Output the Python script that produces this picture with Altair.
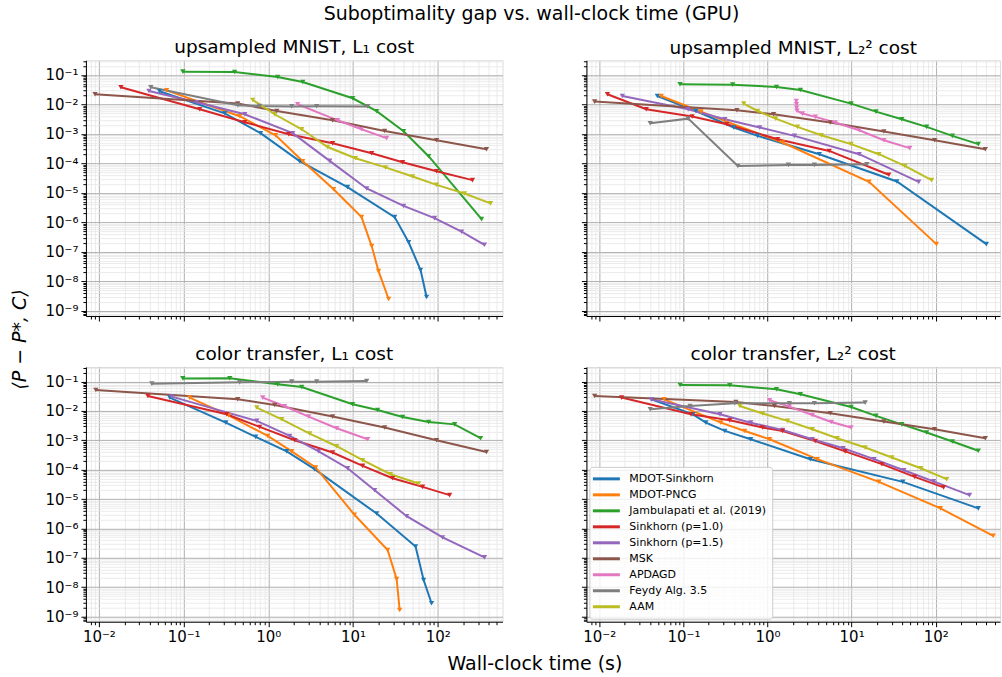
import altair as alt
import pandas as pd

methods = ["MDOT-Sinkhorn", "MDOT-PNCG", "Jambulapati et al. (2019)", "Sinkhorn (p=1.0)",
           "Sinkhorn (p=1.5)", "MSK", "APDAGD", "Feydy Alg. 3.5", "AAM"]
colors = ["#1f77b4", "#ff7f0e", "#2ca02c", "#d62728", "#9467bd", "#8c564b", "#e377c2", "#7f7f7f", "#bcbd22"]

suptitle = "Suboptimality gap vs. wall-clock time (GPU)"
panel_titles = ["upsampled MNIST, L₁ cost", "upsampled MNIST, L₂² cost",
                "color transfer, L₁ cost", "color transfer, L₂² cost"]
x_title = "Wall-clock time (s)"
y_title = "⟨P − P*, C⟩"

# ---------------- upsampled MNIST, L1 cost ----------------
mnist_l1_time = {
    "MDOT-Sinkhorn": [0.052, 0.306, 0.81, 2.34, 8.6, 31.0, 45.3, 62.7, 73.8],
    "MDOT-PNCG": [0.063, 0.46, 1.22, 2.55, 5.9, 12.6, 16.6, 20.0, 26.3],
    "Jambulapati et al. (2019)": [0.098, 0.40, 1.29, 2.55, 9.9, 19.0, 39.5, 78.0, 329],
    "Sinkhorn (p=1.0)": [0.0182, 0.155, 0.527, 1.74, 5.74, 16.6, 38.5, 96.8, 257],
    "Sinkhorn (p=1.5)": [0.039, 0.143, 0.527, 1.94, 5.3, 14.5, 39.5, 91.6, 191, 356],
    "MSK": [0.009, 0.436, 1.26, 5.74, 23.6, 96.8, 376],
    "APDAGD": [2.22, 6.58, 12.6, 24.9],
    "Feydy Alg. 3.5": [0.041, 0.436, 0.79, 1.89, 3.72, 14.9],
    "AAM": [0.655, 1.19, 2.48, 5.01, 10.7, 24.2, 50.5, 96.8, 207, 420],
}
mnist_l1_gap = {
    "MDOT-Sinkhorn": [0.028, 5.0e-3, 1.06e-3, 1.19e-4, 1.56e-5, 1.5e-6, 2.1e-7, 2.4e-8, 2.9e-9],
    "MDOT-PNCG": [0.030, 4.0e-3, 9.0e-4, 1.19e-4, 1.33e-5, 1.5e-6, 1.56e-7, 2.2e-8, 2.5e-9],
    "Jambulapati et al. (2019)": [0.130, 0.126, 0.086, 0.058, 0.0162, 5.9e-3, 1.24e-3, 1.75e-4, 1.28e-6],
    "Sinkhorn (p=1.0)": [0.0383, 6.9e-3, 2.5e-3, 9.8e-4, 4.8e-4, 2.2e-4, 1.1e-4, 5.4e-5, 2.7e-5],
    "Sinkhorn (p=1.5)": [0.0287, 0.0119, 4.65e-3, 1.06e-3, 1.22e-4, 1.41e-5, 3.6e-6, 1.39e-6, 4.8e-7, 1.73e-7],
    "MSK": [0.0222, 0.0107, 6.0e-3, 2.9e-3, 1.26e-3, 6.1e-4, 3.0e-4],
    "APDAGD": [0.0102, 2.9e-3, 1.44e-3, 7.2e-4],
    "Feydy Alg. 3.5": [0.0383, 9.4e-3, 8.8e-3, 8.6e-3, 8.7e-3, 8.6e-3],
    "AAM": [0.0142, 4.65e-3, 1.44e-3, 3.6e-4, 1.5e-4, 7.3e-5, 3.6e-5, 1.87e-5, 9.5e-6, 4.4e-6],
}

# ---------------- upsampled MNIST, L2^2 cost ----------------
mnist_l2_time = {
    "MDOT-Sinkhorn": [0.049, 0.141, 0.397, 0.764, 4.13, 34.5, 400],
    "MDOT-PNCG": [0.0545, 0.162, 0.311, 1.51, 16.1, 102],
    "Jambulapati et al. (2019)": [0.091, 0.386, 1.28, 2.46, 9.86, 19.5, 39.5, 78.0, 158, 321],
    "Sinkhorn (p=1.0)": [0.0125, 0.0362, 0.127, 0.329, 1.32, 5.42, 27.7],
    "Sinkhorn (p=1.5)": [0.0188, 0.114, 0.311, 0.807, 2.09, 12.3, 62.8],
    "MSK": [0.0088, 0.432, 1.18, 5.57, 24.2, 97.0, 389],
    "APDAGD": [2.20, 2.21, 2.22, 2.24, 2.60, 3.70, 6.38, 12.3, 24.2, 49.1],
    "Feydy Alg. 3.5": [0.0403, 0.114, 0.444, 1.77, 3.61, 15.2],
    "AAM": [0.521, 0.764, 1.25, 2.27, 4.36, 9.86, 21.1, 42.9, 89.5],
}
mnist_l2_gap = {
    "MDOT-Sinkhorn": [0.0194, 6.0e-3, 1.65e-3, 8.6e-4, 2.05e-4, 2.43e-5, 1.82e-7],
    "MDOT-PNCG": [0.0194, 5.7e-3, 2.76e-3, 5.1e-4, 2.36e-5, 1.82e-7],
    "Jambulapati et al. (2019)": [0.0484, 0.047, 0.0392, 0.031, 0.0107, 5.7e-3, 3.15e-3, 1.73e-3, 8.6e-4, 4.5e-4],
    "Sinkhorn (p=1.0)": [0.0222, 6.9e-3, 3.9e-3, 2.13e-3, 6.6e-4, 2.65e-4, 4.1e-5],
    "Sinkhorn (p=1.5)": [0.0194, 6.9e-3, 3.15e-3, 1.65e-3, 8.6e-4, 2.05e-4, 2.36e-5],
    "MSK": [0.0125, 6.35e-3, 4.65e-3, 2.43e-3, 1.21e-3, 6.1e-4, 3.0e-4],
    "APDAGD": [0.0131, 0.0102, 7.7e-3, 6.1e-3, 4.9e-3, 3.8e-3, 2.43e-3, 1.33e-3, 6.1e-4, 3.3e-4],
    "Feydy Alg. 3.5": [2.3e-3, 3.3e-3, 8.2e-5, 8.9e-5, 8.9e-5, 9.4e-5],
    "AAM": [0.0107, 6.0e-3, 3.3e-3, 1.73e-3, 9.0e-4, 4.5e-4, 2.05e-4, 8.2e-5, 2.7e-5],
}

# ---------------- color transfer, L1 cost ----------------
color_l1_time = {
    "MDOT-Sinkhorn": [0.0687, 0.315, 0.71, 1.65, 3.52, 19.0, 54.7, 68.1, 84.5],
    "MDOT-PNCG": [0.118, 0.341, 0.984, 1.89, 3.62, 10.4, 25.6, 32.7, 35.5],
    "Jambulapati et al. (2019)": [0.098, 0.351, 1.29, 2.48, 9.89, 19.5, 38.5, 78.0, 158, 320],
    "Sinkhorn (p=1.0)": [0.0379, 0.323, 0.79, 2.05, 5.74, 13.0, 29.3, 66.2, 138],
    "Sinkhorn (p=1.5)": [0.0726, 0.73, 1.79, 3.93, 8.63, 18.0, 42.9, 114, 356],
    "MSK": [0.0092, 0.436, 1.19, 5.74, 23.6, 96.8, 376],
    "APDAGD": [0.859, 1.56, 2.99, 6.41, 14.9],
    "Feydy Alg. 3.5": [0.0422, 0.46, 1.89, 3.72, 14.5],
    "AAM": [0.73, 1.44, 3.08, 6.41, 13.0, 27.7, 59.4],
}
color_l1_gap = {
    "MDOT-Sinkhorn": [0.0286, 4.0e-3, 1.31e-3, 4.2e-4, 1.04e-4, 3.2e-6, 2.4e-7, 1.74e-8, 2.8e-9],
    "MDOT-PNCG": [0.0286, 7.1e-3, 1.41e-3, 4.2e-4, 1.19e-4, 2.9e-6, 1.83e-7, 1.89e-8, 1.66e-9],
    "Jambulapati et al. (2019)": [0.129, 0.131, 0.081, 0.0655, 0.0169, 0.0108, 6.25e-3, 4.2e-3, 3.5e-3, 1.18e-3],
    "Sinkhorn (p=1.0)": [0.0324, 7.7e-3, 2.86e-3, 1.01e-3, 3.85e-4, 1.35e-4, 5.1e-5, 2.6e-5, 1.36e-5],
    "Sinkhorn (p=1.5)": [0.0309, 4.6e-3, 1.41e-3, 4.2e-4, 1.12e-4, 2.0e-5, 2.6e-6, 4.9e-7, 1.03e-7],
    "MSK": [0.0518, 0.025, 0.016, 6.45e-3, 2.72e-3, 1.01e-3, 4.0e-4],
    "APDAGD": [0.0286, 0.0145, 6.45e-3, 2.58e-3, 1.09e-3],
    "Feydy Alg. 3.5": [0.0855, 0.0946, 0.100, 0.100, 0.105],
    "AAM": [0.0131, 5.2e-3, 1.70e-3, 6.3e-4, 2.1e-4, 7.0e-5, 3.4e-5],
}

# ---------------- color transfer, L2^2 cost ----------------
color_l2_time = {
    "MDOT-Sinkhorn": [0.0415, 0.130, 0.185, 0.311, 0.631, 3.23, 40.6, 321],
    "MDOT-PNCG": [0.0592, 0.279, 0.536, 1.06, 3.91, 21.1, 114, 483],
    "Jambulapati et al. (2019)": [0.0914, 0.356, 1.28, 2.46, 9.86, 19.5, 39.5, 78.0, 158, 321],
    "Sinkhorn (p=1.0)": [0.0184, 0.123, 0.356, 0.875, 1.51, 3.70, 8.38, 22.9, 56.3, 124],
    "Sinkhorn (p=1.5)": [0.0415, 0.272, 0.631, 1.51, 3.41, 7.94, 18.5, 41.8, 94.4, 252],
    "MSK": [0.0088, 0.42, 1.21, 5.57, 24.2, 97.0, 389],
    "APDAGD": [1.06, 1.82, 3.41, 5.73, 9.86],
    "Feydy Alg. 3.5": [0.0403, 0.12, 0.408, 1.82, 3.61, 14.5],
    "AAM": [0.468, 0.875, 1.73, 3.41, 6.74, 14.5, 30.1, 66.4, 135],
}
color_l2_gap = {
    "MDOT-Sinkhorn": [0.025, 7.7e-3, 4.0e-3, 2.09e-3, 1.09e-3, 2.28e-4, 3.85e-5, 4.8e-6],
    "MDOT-PNCG": [0.025, 4.0e-3, 2.09e-3, 1.09e-3, 2.28e-4, 3.85e-5, 4.8e-6, 5.6e-7],
    "Jambulapati et al. (2019)": [0.0766, 0.075, 0.0547, 0.037, 0.0137, 6.8e-3, 3.5e-3, 1.84e-3, 9.1e-4, 4.4e-4],
    "Sinkhorn (p=1.0)": [0.0286, 7.7e-3, 4.8e-3, 2.72e-3, 2.09e-3, 9.5e-4, 4.2e-4, 1.54e-4, 5.7e-5, 2.5e-5],
    "Sinkhorn (p=1.5)": [0.025, 7.7e-3, 4.0e-3, 2.26e-3, 1.09e-3, 5.4e-4, 2.28e-4, 9.6e-5, 4.0e-5, 1.36e-5],
    "MSK": [0.0324, 0.0202, 0.0148, 8.35e-3, 4.36e-3, 2.39e-3, 1.18e-3],
    "APDAGD": [0.0231, 0.0141, 7.3e-3, 4.2e-3, 2.72e-3],
    "Feydy Alg. 3.5": [0.0114, 0.0148, 0.0183, 0.0183, 0.0183, 0.0193],
    "AAM": [0.0148, 8.2e-3, 4.6e-3, 2.39e-3, 1.18e-3, 5.7e-4, 2.6e-4, 1.12e-4, 4.75e-5],
}

# axes
x_domain = [0.00703, 581]
y_domain = [6.6e-10, 0.316]
x_ticks = [float(f"{m}e{e}") for e in range(-3, 3) for m in range(1, 10)
           if x_domain[0] <= float(f"{m}e{e}") <= x_domain[1]]
y_ticks = [float(f"{m}e{e}") for e in range(-10, 0) for m in range(1, 10)
           if y_domain[0] <= float(f"{m}e{e}") <= y_domain[1]]

FONT = "DejaVu Sans"
major = "abs(log(datum.value)/LN10 - round(log(datum.value)/LN10)) < 0.001"
ex = "round(log(datum.value)/LN10)"
label_expr = (f"{major} ? '10' + ({ex} < 0 ? '⁻' : '') + "
              f"substring('⁰¹²³⁴⁵⁶⁷⁸⁹', abs({ex}), abs({ex}) + 1) : ''")


def make_axis(values, labels, **kw):
    return alt.Axis(
        values=values, labels=labels, labelExpr=label_expr, labelOverlap=False,
        labelFontSize=15, labelFont=FONT, labelColor="black", labelPadding=3,
        labelFlush=False, labelBound=False,
        tickColor="black", tickWidth=1,
        tickSize={"condition": {"test": major, "value": 5}, "value": 3},
        grid=True,
        gridColor={"condition": {"test": major, "value": "#b0b0b0"}, "value": "#e6e6e6"},
        gridWidth={"condition": {"test": major, "value": 1}, "value": 0.8},
        domainColor="black", domainWidth=1, **kw)


def make_panel(time_d, gap_d, title, width, height, xlabels, ylabels, title_offset,
               ytitle=False, xtitle=False, legend=False):
    rows = []
    for m in methods:
        for i, (t, g) in enumerate(zip(time_d[m], gap_d[m])):
            rows.append({"method": m, "i": i, "t": t, "gap": g})
    df = pd.DataFrame(rows)

    if xtitle:
        xaxis = make_axis(x_ticks, xlabels, title=x_title, titleX=449, titleY=42,
                          titleAlign="center", titleBaseline="middle", titleFontSize=19,
                          titleFont=FONT, titleFontWeight="normal", titleColor="black")
    else:
        xaxis = make_axis(x_ticks, xlabels, title=None)
    if ytitle:
        yaxis = make_axis(y_ticks, ylabels, title=y_title, titleX=-66, titleY=279, titleAngle=270,
                          titleAlign="center", titleBaseline="middle", titleFontSize=19,
                          titleFont=FONT, titleFontWeight="normal", titleFontStyle="italic",
                          titleColor="black")
    else:
        yaxis = make_axis(y_ticks, ylabels, title=None)

    if legend:
        leg = alt.Legend(title=None, orient="none", legendX=3, legendY=100,
                         symbolType="M-3,0L3,0", symbolSize=81, symbolStrokeWidth=3,
                         symbolOffset=5, labelOffset=17, labelFontSize=11, labelFont=FONT,
                         labelColor="black", labelLimit=400, rowPadding=4, padding=6,
                         fillColor="rgba(255,255,255,0.8)", strokeColor="#cccccc",
                         cornerRadius=3, symbolOpacity=1)
    else:
        leg = None

    return alt.Chart(df).mark_line(
        strokeWidth=2,
        point=alt.OverlayMarkDef(shape="triangle-down", size=28, filled=True, opacity=1),
    ).encode(
        x=alt.X("t:Q", scale=alt.Scale(type="log", domain=x_domain, nice=False), axis=xaxis),
        y=alt.Y("gap:Q", scale=alt.Scale(type="log", domain=y_domain, nice=False), axis=yaxis),
        color=alt.Color("method:N", scale=alt.Scale(domain=methods, range=colors), legend=leg),
        order=alt.Order("i:Q"),
    ).properties(
        width=width, height=height,
        title=alt.TitleParams(title, fontSize=18.5, font=FONT, fontWeight="normal",
                              color="black", offset=title_offset),
    )


tl = make_panel(mnist_l1_time, mnist_l1_gap, panel_titles[0], 417, 256, False, True, -3, ytitle=True)
tr = make_panel(mnist_l2_time, mnist_l2_gap, panel_titles[1], 414, 256, False, False, 3)
bl = make_panel(color_l1_time, color_l1_gap, panel_titles[2], 417, 255, True, True, -3, xtitle=True)
br = make_panel(color_l2_time, color_l2_gap, panel_titles[3], 414, 255, True, False, 3, legend=True)

chart = alt.concat(
    tl, tr, bl, br, columns=2, spacing={"row": 51, "column": 84}, bounds="flush"
).resolve_legend(color="independent").properties(
    title=alt.TitleParams(suptitle, fontSize=19, font=FONT, fontWeight="normal", color="black",
                          anchor="middle", dx=26, offset=14),
    padding={"left": 10, "top": 4, "right": 1, "bottom": 2},
    background="white",
).configure_view(stroke="black", strokeWidth=1).configure(font=FONT)

chart.save("out.html", embed_options={"renderer": "svg", "actions": False})
